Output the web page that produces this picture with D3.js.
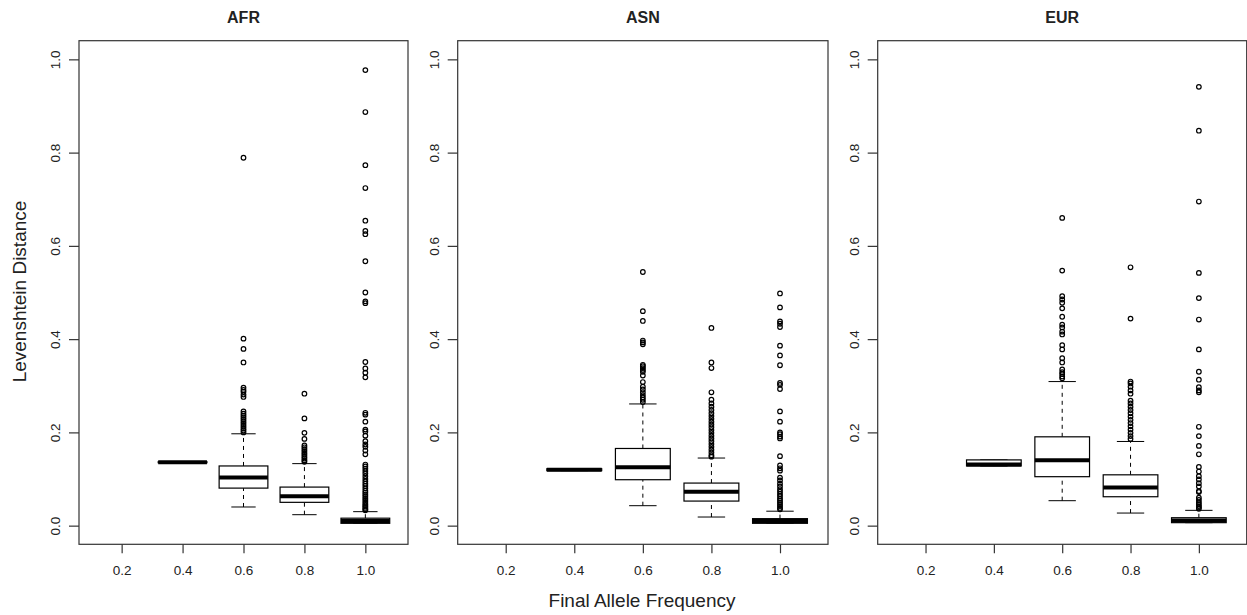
<!DOCTYPE html>
<html>
<head>
<meta charset="utf-8">
<script src="https://cdn.jsdelivr.net/npm/d3@7"></script>
<style>
  body { margin: 0; background: #fff; }
  text { font-family: "Liberation Sans", Arial, sans-serif; fill: #222; }
</style>
</head>
<body>
<div id="chart"></div>
<script>
// tick labels for the five groups
let freqLabels = ["0.2", "0.4", "0.6", "0.8", "1.0"];
let yTicks = [0, 0.2, 0.4, 0.6, 0.8, 1.0];
let panelNames = ["AFR", "ASN", "EUR"];

// box stats per group: [lower whisker, q1, median, q3, upper whisker]
let afrBoxes = [null,
  [0.135, 0.135, 0.136, 0.137, 0.137],
  [0.040, 0.0805, 0.103, 0.128, 0.197],
  [0.0235, 0.050, 0.063, 0.0827, 0.133],
  [0.005, 0.005, 0.010, 0.016, 0.030]];
let asnBoxes = [null,
  [0.118, 0.118, 0.120, 0.122, 0.122],
  [0.0428, 0.0985, 0.1255, 0.1655, 0.261],
  [0.0185, 0.0527, 0.0728, 0.0913, 0.145],
  [0.005, 0.005, 0.010, 0.015, 0.031]];
let eurBoxes = [null,
  [0.128, 0.128, 0.131, 0.141, 0.141],
  [0.0535, 0.105, 0.140, 0.1905, 0.309],
  [0.027, 0.062, 0.082, 0.109, 0.1805],
  [0.0064, 0.0064, 0.011, 0.017, 0.0328]];

// outliers per group
let afrOutliers = [[], [],
  [0.789, 0.401, 0.379, 0.350, 0.296, 0.291, 0.287, 0.281, 0.276, 0.245, 0.240, 0.236, 0.232, 0.228, 0.224, 0.220, 0.216, 0.212, 0.208, 0.204, 0.200],
  [0.283, 0.230, 0.199, 0.186, 0.172, 0.168, 0.164, 0.160, 0.156, 0.152, 0.148, 0.144, 0.140, 0.137],
  [0.977, 0.887, 0.773, 0.724, 0.654, 0.632, 0.625, 0.567, 0.500, 0.481, 0.477, 0.351, 0.337, 0.328, 0.318,
   0.242, 0.238, 0.223, 0.206, 0.202, 0.193, 0.181, 0.174, 0.169, 0.161, 0.153, 0.131, 0.127, 0.122, 0.117,
   0.112, 0.106, 0.100, 0.095, 0.090, 0.085, 0.080, 0.075, 0.071, 0.067, 0.063, 0.059, 0.055, 0.051, 0.047,
   0.044, 0.041, 0.038, 0.035, 0.033]];
let asnOutliers = [[], [],
  [0.544, 0.460, 0.439, 0.397, 0.393, 0.389, 0.345, 0.342, 0.338, 0.334, 0.330, 0.322, 0.308, 0.298, 0.292, 0.286, 0.280, 0.275, 0.270, 0.265],
  [0.424, 0.350, 0.338, 0.286, 0.270, 0.262, 0.255, 0.248, 0.241, 0.235, 0.229, 0.223, 0.217, 0.211, 0.205,
   0.199, 0.193, 0.187, 0.181, 0.175, 0.169, 0.163, 0.157, 0.151, 0.148],
  [0.498, 0.468, 0.438, 0.433, 0.426, 0.386, 0.365, 0.344, 0.306, 0.302, 0.293, 0.245, 0.223, 0.200, 0.196,
   0.191, 0.187, 0.149, 0.129, 0.123, 0.118, 0.103, 0.097, 0.090, 0.084, 0.078, 0.073, 0.068, 0.063, 0.058,
   0.054, 0.050, 0.046, 0.042, 0.038, 0.035]];
let eurOutliers = [[], [],
  [0.660, 0.547, 0.492, 0.485, 0.478, 0.466, 0.448, 0.431, 0.425, 0.416, 0.410, 0.387, 0.378, 0.359, 0.350,
   0.335, 0.329, 0.325, 0.320, 0.316],
  [0.554, 0.444, 0.309, 0.305, 0.298, 0.290, 0.283, 0.268, 0.262, 0.255, 0.248, 0.241, 0.234, 0.227, 0.220,
   0.213, 0.206, 0.199, 0.192, 0.186],
  [0.941, 0.847, 0.695, 0.542, 0.488, 0.442, 0.378, 0.330, 0.313, 0.297, 0.290, 0.286, 0.212, 0.192, 0.171,
   0.153, 0.126, 0.116, 0.106, 0.099, 0.091, 0.084, 0.074, 0.072, 0.060, 0.055, 0.050, 0.046, 0.042, 0.039, 0.036]];

let allBoxes = [afrBoxes, asnBoxes, eurBoxes];
let allOutliers = [afrOutliers, asnOutliers, eurOutliers];

let width = 1247, height = 615;
let plotTop = 40.7, plotBottom = 544.3;
let panelX = [[79, 408], [457.7, 828], [877.7, 1246.7]];

let svg = d3.select("#chart").append("svg")
  .attr("width", width)
  .attr("height", height);

let y = d3.scaleLinear().domain([-0.04, 1.04]).range([plotBottom, plotTop]);

panelNames.forEach(function(name, p) {
  let x = d3.scaleLinear().domain([0.3, 5.7]).range(panelX[p]);
  let unit = x(2) - x(1);
  let boxW = 0.8 * unit;
  let g = svg.append("g");

  // boxes
  allBoxes[p].forEach(function(b, i) {
    if (!b) return;
    let cx = x(i + 1);
    // whiskers
    [[b[0], b[1]], [b[3], b[4]]].forEach(function(seg) {
      g.append("line")
        .attr("x1", cx).attr("x2", cx)
        .attr("y1", y(seg[0])).attr("y2", y(seg[1]))
        .attr("stroke", "#000").attr("stroke-width", 1)
        .attr("stroke-dasharray", "4,4");
    });
    [b[0], b[4]].forEach(function(v) {
      g.append("line")
        .attr("x1", cx - boxW / 4).attr("x2", cx + boxW / 4)
        .attr("y1", y(v)).attr("y2", y(v))
        .attr("stroke", "#000").attr("stroke-width", 1);
    });
    g.append("rect")
      .attr("x", cx - boxW / 2)
      .attr("y", y(b[3]))
      .attr("width", boxW)
      .attr("height", Math.max(0.5, y(b[1]) - y(b[3])))
      .attr("fill", "#fff")
      .attr("stroke", "#000")
      .attr("stroke-width", 1.2);
    g.append("line")
      .attr("x1", cx - boxW / 2).attr("x2", cx + boxW / 2)
      .attr("y1", y(b[2])).attr("y2", y(b[2]))
      .attr("stroke", "#000").attr("stroke-width", 4);
  });

  // outliers
  allOutliers[p].forEach(function(vals, i) {
    g.selectAll(null)
      .data(vals)
      .enter()
      .append("circle")
      .attr("cx", x(i + 1))
      .attr("cy", function(d) { return y(d); })
      .attr("r", 2.3)
      .attr("fill", "none")
      .attr("stroke", "#000")
      .attr("stroke-width", 1.2);
  });

  // frame
  g.append("rect")
    .attr("x", panelX[p][0]).attr("y", plotTop)
    .attr("width", panelX[p][1] - panelX[p][0])
    .attr("height", plotBottom - plotTop)
    .attr("fill", "none")
    .attr("stroke", "#333")
    .attr("stroke-width", 1.2);

  // x axis
  let xAxis = g.append("g")
    .attr("transform", "translate(0," + plotBottom + ")")
    .call(d3.axisBottom(x).tickValues([1, 2, 3, 4, 5])
      .tickFormat(function(d) { return freqLabels[d - 1]; })
      .tickSize(9));
  xAxis.select(".domain").remove();
  xAxis.selectAll("line").attr("stroke", "#333").attr("stroke-width", 1.2);
  xAxis.selectAll("text")
    .attr("dy", null).attr("y", 31)
    .style("font-size", "13.5px")
    .attr("fill", "#222");

  // y axis
  let yAxis = g.append("g")
    .attr("transform", "translate(" + panelX[p][0] + ",0)")
    .call(d3.axisLeft(y).tickValues(yTicks).tickFormat(d3.format(".1f")).tickSize(10));
  yAxis.select(".domain").remove();
  yAxis.selectAll("line").attr("stroke", "#333").attr("stroke-width", 1.2);
  yAxis.selectAll("text")
    .attr("dy", null).attr("x", 0).attr("y", -19)
    .attr("transform", "rotate(-90)")
    .attr("text-anchor", "middle")
    .style("font-size", "13.5px")
    .attr("fill", "#222");

  // title
  svg.append("text")
    .attr("x", (panelX[p][0] + panelX[p][1]) / 2)
    .attr("y", 22.5)
    .attr("text-anchor", "middle")
    .style("font-weight", "bold")
    .style("font-size", "16px")
    .text(name);
});

svg.append("text")
  .attr("x", 642)
  .attr("y", 607)
  .attr("text-anchor", "middle")
  .style("font-size", "19px")
  .text("Final Allele Frequency");

svg.append("text")
  .attr("transform", "translate(25.5,291.5) rotate(-90)")
  .attr("text-anchor", "middle")
  .style("font-size", "19px")
  .text("Levenshtein Distance");
</script>
</body>
</html>
